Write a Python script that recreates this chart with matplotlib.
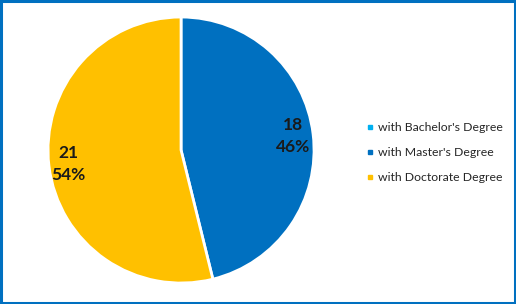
import matplotlib.pyplot as plt
from matplotlib.lines import Line2D
from matplotlib.patches import Rectangle

labels = ["with Bachelor's Degree", "with Master's Degree", "with Doctorate Degree"]
counts = [0, 18, 21]
colors = ["#00B0F0", "#0070C0", "#FFC000"]

fig = plt.figure(figsize=(5.16, 3.04), dpi=100)
ax = fig.add_axes([-0.0849, 0.069, 0.8715, 0.875])
total = sum(counts)


def fmt(pct):
    n = round(pct * total / 100)
    if n == 0:
        return ""
    return f"{n}\n{pct:.0f}%"


wedges, texts, autotexts = ax.pie(counts, colors=colors, startangle=90, counterclock=False,
                                  autopct=fmt, pctdistance=0.85,
                                  wedgeprops=dict(edgecolor="white", linewidth=2),
                                  textprops=dict(fontsize=12.5, fontweight="bold", color="#1a1a1a",
                                                 family="Lato", linespacing=1.45))
ax.set_xlim(-1, 1)
ax.set_ylim(-1, 1)
ax.set_aspect("equal")

handles = [Line2D([], [], marker="s", linestyle="", markersize=3.5, color=c) for c in colors]
fig.legend(handles, labels, loc="center left", bbox_to_anchor=(0.688, 0.497), frameon=False,
           handlelength=0.6, handletextpad=0.35, labelspacing=1.15,
           prop=dict(family="Lato", size=8.8), labelcolor="#262626")

fig.patches.append(Rectangle((0.002, 0.003), 0.996, 0.994, transform=fig.transFigure,
                             fill=False, edgecolor="#0070C0", linewidth=2.2))
fig.savefig("out.png", dpi=100)
